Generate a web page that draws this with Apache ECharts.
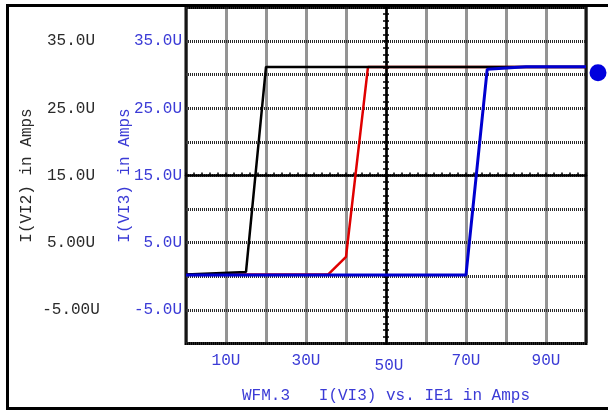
<!DOCTYPE html>
<html>
<head>
<meta charset="utf-8">
<script src="https://cdn.jsdelivr.net/npm/echarts@6/dist/echarts.min.js"></script>
<style>
html,body{margin:0;padding:0;background:#fff;}
#chart{width:608px;height:410px;}
</style>
</head>
<body>
<div id="chart"></div>
<script>
// ---- data (values in micro-amps) ----
const blackX = [0, 15, 20, 100];
const blackY = [0.25, 0.65, 31.15, 31.15];
const redX = [0, 35.5, 40, 45.5, 100];
const redY = [0.25, 0.25, 2.9, 31.15, 31.15];
const blueX = [0, 70, 75.3, 85, 100];
const blueY = [0.2, 0.2, 30.8, 31.2, 31.2];

// ---- tick labels ----
const xTickValues = [10, 30, 50, 70, 90];
const xTickLabels = ['10U', '30U', '50U', '70U', '90U'];
const yTickValues = [35, 25, 15, 5, -5];
const yLeftLabels = ['35.0U', '25.0U', '15.0U', '5.00U', '-5.00U'];
const yBlueLabels = ['35.0U', '25.0U', '15.0U', '5.0U', '-5.0U'];

const xTitle = 'WFM.3   I(VI3) vs. IE1 in Amps';
const yBlueName = 'I(VI3) in Amps';
const yBlackName = 'I(VI2) in Amps';

const FONT = 'Liberation Mono';
const BLUE_TXT = '#3b3bd6';
const DARK_TXT = '#2a2a2a';

const pairs = (xs, ys) => xs.map((x, i) => [x, ys[i]]);

const gridLine = { show: true, lineStyle: { color: '#2a2a2a', width: 3, type: [1, 1] } };

const chart = echarts.init(document.getElementById('chart'), null, { renderer: 'canvas' });
chart.setOption({
  animation: false,
  backgroundColor: '#fff',
  grid: { left: 186, right: 22, top: 7.5, bottom: 66.5, containLabel: false, outerBoundsMode: 'none',
          show: true, borderColor: '#000', borderWidth: 3, backgroundColor: 'transparent' },
  xAxis: [
    {
      type: 'value', min: 0, max: 100, interval: 10,
      axisLine: { show: false }, axisTick: { show: false },
      splitLine: gridLine,
      axisLabel: {
        margin: 9, fontFamily: FONT, fontSize: 16, color: BLUE_TXT,
        formatter: v => {
          const i = xTickValues.indexOf(v);
          if (i < 0) return '';
          return v === 50 ? '{m|' + xTickLabels[i] + '}' : xTickLabels[i];
        },
        rich: { m: { fontFamily: FONT, fontSize: 16, color: BLUE_TXT, padding: [5, 0, 0, 6] } }
      },
      name: xTitle, nameLocation: 'middle', nameGap: 44,
      nameTextStyle: { fontFamily: FONT, fontSize: 16, color: BLUE_TXT }
    },
    {
      type: 'value', min: 0, max: 100, interval: 2, position: 'bottom', offset: -168,
      axisLine: { show: true, lineStyle: { color: '#000', width: 2.5 } },
      axisTick: { show: true, inside: true, length: 3, lineStyle: { color: '#000', width: 1.5 } },
      axisLabel: { show: false }, splitLine: { show: false }
    }
  ],
  yAxis: [
    {
      type: 'value', min: -10, max: 40, interval: 5, position: 'left',
      axisLine: { show: false }, axisTick: { show: false },
      splitLine: gridLine,
      axisLabel: {
        margin: 4, fontFamily: FONT, fontSize: 16, color: BLUE_TXT,
        formatter: v => { const i = yTickValues.indexOf(v); return i < 0 ? '' : yBlueLabels[i]; }
      },
      name: yBlueName, nameLocation: 'middle', nameGap: 53, nameRotate: 90, nameMoveOverlap: false,
      nameTextStyle: { fontFamily: FONT, fontSize: 16, color: BLUE_TXT }
    },
    {
      type: 'value', min: -10, max: 40, interval: 5, position: 'left', offset: 0,
      axisLine: { show: false }, axisTick: { show: false }, splitLine: { show: false },
      axisLabel: {
        margin: 115, align: 'center', fontFamily: FONT, fontSize: 16, color: DARK_TXT,
        formatter: v => { const i = yTickValues.indexOf(v); return i < 0 ? '' : yLeftLabels[i]; }
      },
      name: yBlackName, nameLocation: 'middle', nameGap: 151, nameRotate: 90, nameMoveOverlap: false,
      nameTextStyle: { fontFamily: FONT, fontSize: 16, color: DARK_TXT }
    },
    {
      type: 'value', min: -10, max: 40, interval: 1, position: 'left', offset: -200,
      axisLine: { show: true, lineStyle: { color: '#000', width: 2.5 } },
      axisTick: { show: true, inside: false, length: 3, lineStyle: { color: '#000', width: 1.5 } },
      axisLabel: { show: false }, splitLine: { show: false }
    },
    {
      type: 'value', min: -10, max: 40, interval: 1, position: 'left', offset: -200,
      axisLine: { show: false },
      axisTick: { show: true, inside: true, length: 3, lineStyle: { color: '#000', width: 1.5 } },
      axisLabel: { show: false }, splitLine: { show: false }
    }
  ],
  graphic: [
    { type: 'rect', z: 100, shape: { x: 7.5, y: 5.5, width: 700, height: 403 }, style: { fill: 'none', stroke: '#000', lineWidth: 3 } }
  ],
  series: [
    { type: 'line', name: 'red', xAxisIndex: 0, yAxisIndex: 0, data: pairs(redX, redY), symbol: 'none',
      lineStyle: { color: '#e00000', width: 2.5 } },
    { type: 'line', name: 'black', xAxisIndex: 0, yAxisIndex: 1, data: pairs(blackX, blackY), symbol: 'none',
      lineStyle: { color: '#000', width: 2.5 } },
    { type: 'line', name: 'blue', xAxisIndex: 0, yAxisIndex: 0, data: pairs(blueX, blueY), symbol: 'none',
      lineStyle: { color: '#0000d0', width: 3 },
      markPoint: {
        silent: true,
        symbol: 'circle', symbolSize: 17, symbolOffset: [12, 6],
        itemStyle: { color: '#0000dd' }, label: { show: false },
        data: [{ coord: [blueX[blueX.length - 1], blueY[blueY.length - 1]] }]
      }
    }
  ]
});
</script>
</body>
</html>
